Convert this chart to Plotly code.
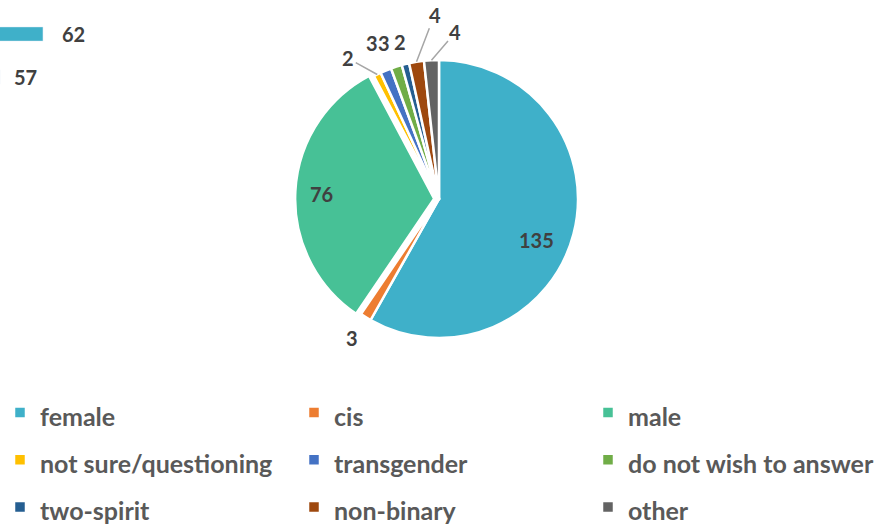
import math
import plotly.graph_objects as go

# ---- data ----
labels = ["female", "cis", "male", "not sure/questioning", "transgender",
          "do not wish to answer", "two-spirit", "non-binary", "other"]
values = [135, 3, 76, 2, 3, 3, 2, 4, 4]
colors = ["#3FB0C9", "#ED7D31", "#47C196", "#FFC000", "#4472C4",
          "#70AD47", "#255E91", "#9E480E", "#636363"]
pulls = [0, 0, 0.035, 0, 0, 0, 0, 0, 0]

# label anchors: fraction of radius along slice mid angle, then px offset of text centre
label_rad = [0.7, 1, 0.7, 1, 1, 1, 1, 1, 1]
label_dx = [3, -14, -20, -29, -14, -12, -5, 18, 24]
label_dy = [16, 21, 0, -16, -28, -24, -22, -47, -28]
leader = [False, False, False, True, False, False, False, True, True]

# remnant bar series at top-left
rem_values = [62, 57]
rem_rows = [1, 0]

W, H = 882, 524
CX, CY, R = 439, 199, 139          # pie centre / radius in px
HALF = R * (1 + max(pulls))

fig = go.Figure()

fig.add_trace(go.Pie(
    labels=[f'<span style="font-size:25px">{l}</span>' for l in labels],
    values=values, sort=False, direction="clockwise", rotation=0,
    marker=dict(colors=colors, line=dict(color="white", width=2.5)),
    pull=pulls,
    textinfo="none",
    domain=dict(x=[(CX - HALF) / W, (CX + HALF) / W],
                y=[1 - (CY + HALF) / H, 1 - (CY - HALF) / H]),
    hoverinfo="value",
))

# value labels, anchored on each slice's mid angle
total = sum(values)
cum = 0
for i, v in enumerate(values):
    mid = (cum + v / 2) / total * 2 * math.pi
    cum += v
    px = CX + label_rad[i] * R * math.sin(mid)
    py = CY - label_rad[i] * R * math.cos(mid)
    fig.add_annotation(
        x=px / W, y=1 - py / H, xref="paper", yref="paper",
        text=f"<b>{v}</b>", showarrow=True, ax=label_dx[i], ay=label_dy[i],
        arrowhead=0, arrowwidth=1.5, standoff=0,
        arrowcolor="#A6A6A6" if leader[i] else "rgba(0,0,0,0)",
        font=dict(family="Lato", size=20, color="#404040"),
    )

fig.add_trace(go.Bar(
    x=rem_values, y=rem_rows, orientation="h", width=0.33,
    marker=dict(color=["#3FB0C9", "rgba(0,0,0,0)"]),
    xaxis="x", yaxis="y", showlegend=False, hoverinfo="skip",
))

for v, r, sh in zip(rem_values, rem_rows, [17, 12]):
    fig.add_annotation(x=v, y=r, xref="x", yref="y", text=f"<b>{v}</b>",
                       showarrow=False, xanchor="left", xshift=sh,
                       font=dict(family="Lato", size=20, color="#404040"))

fig.update_layout(
    width=W, height=H,
    margin=dict(l=0, r=0, t=0, b=0, autoexpand=False),
    paper_bgcolor="white", plot_bgcolor="rgba(0,0,0,0)",
    xaxis=dict(domain=[0, 0.1], range=[57, 67.26], visible=False, fixedrange=True),
    yaxis=dict(domain=[1 - 98.5 / H, 1 - 12.5 / H], range=[-0.5, 1.5], visible=False, fixedrange=True),
    showlegend=True,
    legend=dict(orientation="h", x=0, xanchor="left", y=1 - 384 / H, yanchor="top",
                entrywidth=249, entrywidthmode="pixels",
                font=dict(family="Lato", size=34, color="#595959", weight="bold"),
                traceorder="normal"),
)

fig.write_html("out.html", config={"displayModeBar": False},
               post_script="document.body.style.margin='0px';")
